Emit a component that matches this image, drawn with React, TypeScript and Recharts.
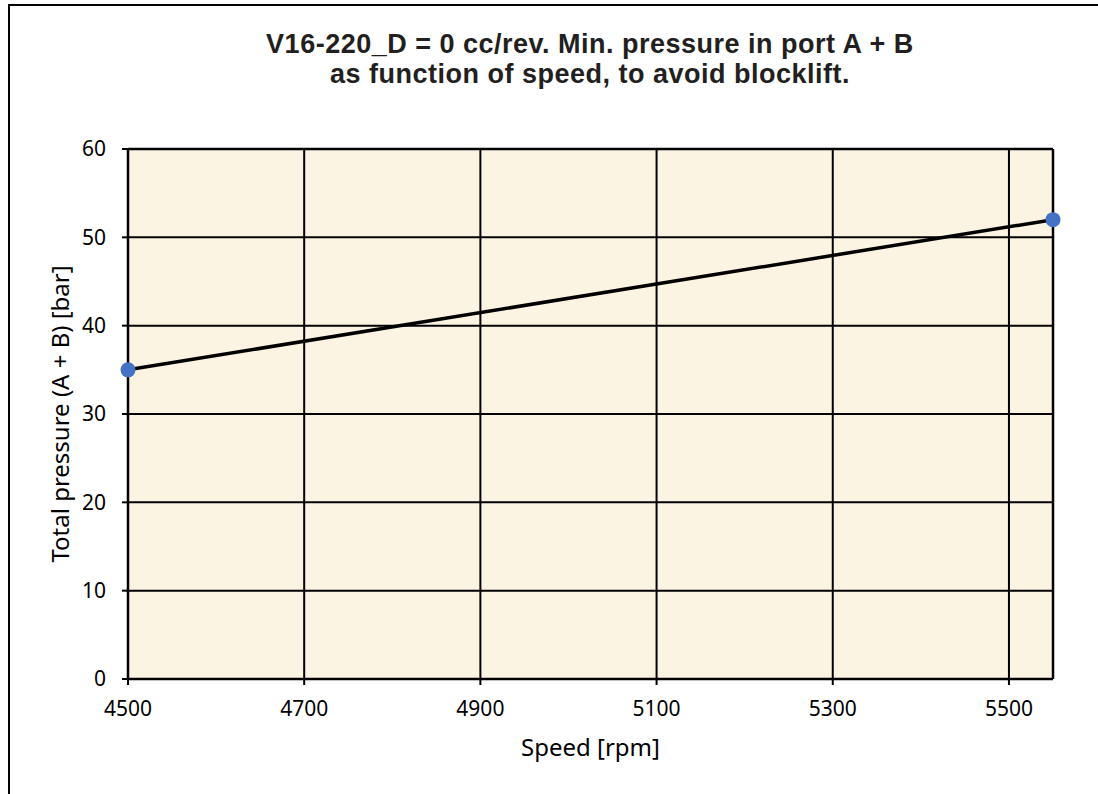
import { LineChart, Line, XAxis, YAxis, CartesianGrid, ReferenceLine } from "recharts";

// chart values
const speed = [4500, 5550];
const pressure = [35, 52];
const xTicks = [4500, 4700, 4900, 5100, 5300, 5500];
const yTicks = [0, 10, 20, 30, 40, 50, 60];
const titleLines = [
  "V16-220_D = 0 cc/rev. Min. pressure in port A + B",
  "as function of speed, to avoid blocklift.",
];

const data = speed.map((s, i) => ({ speed: s, pressure: pressure[i] }));

const tickFont = { fontFamily: "Noto Sans", fontSize: 21, fill: "#000" };
const axisTitleFont = { fontFamily: "Noto Sans", fontSize: 24, fill: "#000" };

export default function App() {
  return (
    <div style={{ position: "fixed", left: 0, top: 0, width: 1098, height: 794, overflow: "hidden", background: "#fff" }}>
      <div
        style={{
          position: "absolute",
          left: 8,
          top: 4,
          width: 1200,
          height: 900,
          borderLeft: "2px solid #000",
          borderTop: "2px solid #000",
        }}
      />
      <svg width={1098} height={120} style={{ position: "absolute", left: 0, top: 0 }}>
        {titleLines.map((t, i) => (
          <text
            key={i}
            x={590}
            y={53 + i * 30}
            textAnchor="middle"
            fontFamily="Liberation Sans"
            fontWeight="bold"
            fontSize={27}
            letterSpacing={0.5}
            fill="#231F20"
          >
            {t}
          </text>
        ))}
      </svg>
      <div style={{ position: "absolute", left: 0, top: 0 }}>
        <LineChart width={1098} height={794} data={data} margin={{ top: 149, right: 45, bottom: 0, left: 0 }}>
          <CartesianGrid stroke="#000" strokeWidth={2} fill="#FCF4E2" fillOpacity={1} />
          <XAxis
            dataKey="speed"
            type="number"
            domain={[4500, 5550]}
            ticks={xTicks}
            height={115}
            tickSize={6}
            tickMargin={16}
            tick={tickFont}
            axisLine={{ stroke: "#000", strokeWidth: 2.5 }}
            tickLine={{ stroke: "#000", strokeWidth: 2 }}
            label={{
              value: "Speed [rpm]",
              position: "insideBottom",
              offset: 38,
              style: axisTitleFont,
            }}
          />
          <YAxis
            type="number"
            domain={[0, 60]}
            ticks={yTicks}
            width={128}
            tickSize={6}
            tickMargin={16}
            tick={tickFont}
            axisLine={{ stroke: "#000", strokeWidth: 2.5 }}
            tickLine={{ stroke: "#000", strokeWidth: 2 }}
            label={{
              value: "Total pressure (A + B) [bar]",
              angle: -90,
              position: "insideLeft",
              offset: 60,
              style: { ...axisTitleFont, textAnchor: "middle" },
            }}
          />
          <ReferenceLine x={5550} stroke="#000" strokeWidth={2.5} />
          <ReferenceLine y={60} stroke="#000" strokeWidth={2.5} />
          <Line
            dataKey="pressure"
            type="linear"
            stroke="#000"
            strokeWidth={3.5}
            dot={{ r: 7.5, fill: "#4472C4", stroke: "none" }}
            isAnimationActive={false}
          />
        </LineChart>
      </div>
    </div>
  );
}
